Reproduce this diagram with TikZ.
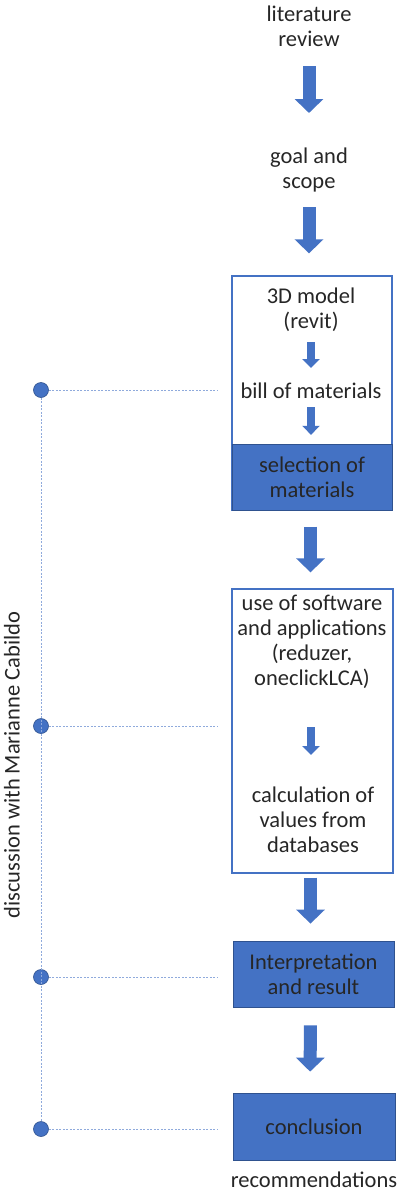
\documentclass[tikz,border=0pt]{standalone}
\usepackage{fontspec}
\setmainfont{Carlito}
\usepackage{tikz}
\usetikzlibrary{arrows.meta,positioning}
\definecolor{offblue}{HTML}{4472C4}
\definecolor{darkblue}{HTML}{2F528F}
\definecolor{paleblue}{HTML}{8FAADC}

\begin{document}
\begin{tikzpicture}[x=1pt,y=-1pt,
  every node/.style={font=\fontsize{22.5}{25}\selectfont, text=black!85, align=center, inner sep=0pt},
  frame/.style={draw=offblue, line width=1.3pt},
  bluebox/.style={fill=offblue, draw=darkblue, line width=0.8pt},
  bigarr/.style={offblue, line width=13pt, -{Triangle[width=28pt 0 0,length=14pt 0 0]}},
  smallarr/.style={offblue, line width=8pt, -{Triangle[width=17pt 0 0,length=9pt 0 0]}},
  talk/.style={paleblue, line width=0.8pt, dash pattern=on 2pt off 1.5pt},
  meet/.style={circle, fill=offblue, draw=darkblue, line width=0.6pt, minimum size=15pt}]
\useasboundingbox (0,0) rectangle (400,1191);

% steps
\node (lit) at (309,26) {literature\\review};
\node (goal) at (309,169.5) {goal and\\scope};

\node[frame, minimum width=160pt, minimum height=234pt] (box1) at (312,393) {};
\node (model) at (311,310) {3D model\\(revit)};
\node (bom) at (311,390.5) {bill of materials};
\node[bluebox, minimum width=160pt, minimum height=66pt, anchor=south] (sel) at (box1.south) {selection of\\materials};

\node[frame, minimum width=161pt, minimum height=284pt] (box2) at (312.5,731) {};
\node (soft) at (312,641.5) {use of software\\and applications\\(reduzer,\\oneclickLCA)};
\node (calc) at (313,819.5) {calculation of\\values from\\databases};

\node[bluebox, minimum width=161pt, minimum height=66pt] (interp) at (313.5,974) {Interpretation\\and result};
\node[bluebox, minimum width=162pt, minimum height=67pt] (concl) at (314,1126.5) {conclusion};
\node (rec) at (314,1180) {recommendations};

% block arrows
\draw[bigarr, shorten <=40pt, shorten >=56.5pt] (lit.center) -- (goal.center);
\draw[bigarr, shorten <=37.5pt, shorten >=22pt] (goal.center) -- (goal.center |- box1.north);
\draw[smallarr, shorten <=32pt, shorten >=22.5pt] (model.center) -- (bom.center);
\draw[smallarr, shorten <=16.5pt, shorten >=9pt] (bom.center) -- (bom.center |- sel.north);
\draw[bigarr, shorten <=16pt, shorten >=16pt] ([xshift=-1.5pt]box1.south) -- ([xshift=-2pt]box2.north);
\draw[smallarr, shorten <=85.5pt, shorten >=64.5pt] ([xshift=-1pt]soft.center) -- ([xshift=-2pt]calc.center);
\draw[bigarr, shorten <=4pt, shorten >=17pt] ([xshift=-2pt]box2.south) -- ([xshift=-3pt]interp.north);
\draw[bigarr, shorten <=18pt, shorten >=21pt] ([xshift=-3pt]interp.south) -- ([xshift=-4pt]concl.north);

% discussions
\node[meet] (d1) at (41,390) {};
\node[meet] (d2) at (41,726) {};
\node[meet] (d3) at (41,977) {};
\node[meet] (d4) at (41,1129) {};
\coordinate (e1) at (218,390);
\coordinate (e2) at (218,726);
\coordinate (e3) at (218,977);
\coordinate (e4) at (218,1129);
\draw[talk] (d1) -- (d4);
\draw[talk] (d1) -- (e1);
\draw[talk] (d2) -- (e2);
\draw[talk] (d3) -- (e3);
\draw[talk] (d4) -- (e4);
\node[rotate=90] (who) at (12,765) {discussion with Marianne Cabildo};
\end{tikzpicture}
\end{document}
